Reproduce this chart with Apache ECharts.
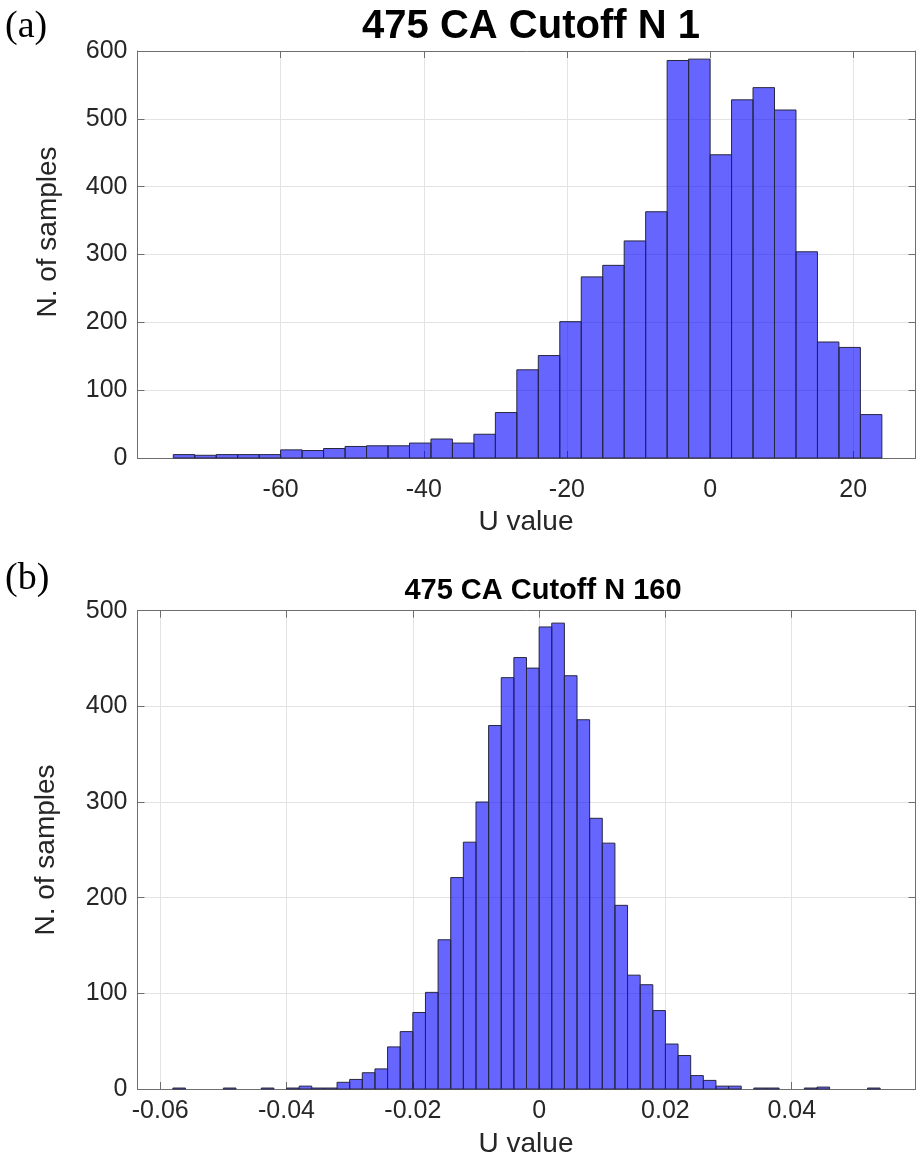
<!DOCTYPE html>
<html>
<head>
<meta charset="utf-8">
<script src="https://cdn.jsdelivr.net/npm/echarts@6/dist/echarts.min.js"></script>
<style>
html,body{margin:0;padding:0;background:#fff;}
#chart{width:917px;height:1170px;}
</style>
</head>
<body>
<div id="chart"></div>
<script>
// ---------- Data ----------
// Panel (a): histogram of U value, bins of width 3 starting at -75
const binStartA = -75;
const binWidthA = 3;
const countsA = [5, 4, 5, 5, 5, 12, 11, 14, 17, 18, 18, 22, 28, 22, 35, 67, 130, 151, 201, 267,
                 284, 320, 363, 586, 588, 447, 528, 546, 513, 304, 171, 163, 64];

// Panel (b): histogram of U value, bins of width 0.002 starting at -0.058
const binStartB = -0.058;
const binWidthB = 0.002;
const countsB = [1, 0, 0, 0, 1, 0, 0, 1, 0, 1, 3, 1, 1, 7, 10, 17, 21, 44, 60, 80,
                 101, 156, 221, 258, 300, 380, 430, 451, 440, 483, 487, 432, 386, 283, 257, 192, 119, 109, 82, 47,
                 35, 14, 9, 3, 3, 0, 1, 1, 0, 0, 1, 2, 0, 0, 0, 1];

const titleA = '475 CA Cutoff N 1';
const titleB = '475 CA Cutoff N 160';
const xName = 'U value';
const yName = 'N. of samples';
const panelA = '(a)';
const panelB = '(b)';

// ---------- Build ----------
function binsToData(start, width, counts) {
  return counts.map(function (c, i) {
    return [+(start + i * width).toFixed(6), +(start + (i + 1) * width).toFixed(6), c];
  });
}

const SANS = "'Liberation Sans', Arial, Helvetica, sans-serif";
const SERIF = "'Liberation Serif', 'Times New Roman', serif";
const TXT = '#262626';
const BOX = '#6e6e6e';
const GRIDC = '#e3e3e3';

function histSeries(idx, data) {
  return {
    type: 'custom',
    xAxisIndex: idx * 2,
    yAxisIndex: idx * 2,
    encode: { x: [0, 1], y: 2 },
    data: data,
    z: 3,
    renderItem: function (params, api) {
      const v = api.value(2);
      if (!v) return null;
      const p0 = api.coord([api.value(0), v]);
      const p1 = api.coord([api.value(1), 0]);
      return {
        type: 'rect',
        shape: { x: p0[0], y: p0[1], width: p1[0] - p0[0], height: p1[1] - p0[1] },
        style: { fill: 'rgba(0,0,255,0.6)', stroke: '#262640', lineWidth: 1 }
      };
    }
  };
}

function mainX(grid, min, max, interval, fmt, margin) {
  const ax = {
    type: 'value', gridIndex: grid, position: 'bottom', min: min, max: max,
    axisLine: { show: true, onZero: false, lineStyle: { color: BOX, width: 1 } },
    axisTick: { show: true, inside: true, length: 7, lineStyle: { color: BOX } },
    axisLabel: { show: true, color: TXT, fontSize: 25, fontFamily: SANS, margin: margin,
                 showMinLabel: false, showMaxLabel: false, formatter: fmt },
    splitLine: { show: true, lineStyle: { color: GRIDC, width: 1 } }
  };
  if (interval != null) ax.interval = interval;
  return ax;
}
function boxX(grid, min, max, interval) {
  const ax = {
    type: 'value', gridIndex: grid, position: 'top', min: min, max: max,
    axisLine: { show: true, onZero: false, lineStyle: { color: BOX, width: 1 } },
    axisTick: { show: true, inside: true, length: 7, lineStyle: { color: BOX } },
    axisLabel: { show: false }, splitLine: { show: false }
  };
  if (interval != null) ax.interval = interval;
  return ax;
}
function mainY(grid, max) {
  return {
    type: 'value', gridIndex: grid, position: 'left', min: 0, max: max, interval: 100,
    axisLine: { show: true, onZero: false, lineStyle: { color: BOX, width: 1 } },
    axisTick: { show: true, inside: true, length: 7, lineStyle: { color: BOX } },
    axisLabel: { show: true, color: TXT, fontSize: 25, fontFamily: SANS, margin: 10 },
    splitLine: { show: true, lineStyle: { color: GRIDC, width: 1 } }
  };
}
function boxY(grid, max) {
  return {
    type: 'value', gridIndex: grid, position: 'right', min: 0, max: max, interval: 100,
    axisLine: { show: true, onZero: false, lineStyle: { color: BOX, width: 1 } },
    axisTick: { show: true, inside: true, length: 7, lineStyle: { color: BOX } },
    axisLabel: { show: false }, splitLine: { show: false }
  };
}

const chart = echarts.init(document.getElementById('chart'), null, { renderer: 'canvas', width: 917, height: 1170 });

const option = {
  backgroundColor: '#ffffff',
  animation: false,
  title: [
    { text: titleA, left: 526, top: 2, textAlign: 'center',
      textStyle: { fontSize: 40, fontWeight: 'bold', color: '#000', fontFamily: SANS } },
    { text: titleB, left: 538, top: 571, textAlign: 'center',
      textStyle: { fontSize: 29, fontWeight: 'bold', color: '#000', fontFamily: SANS } },
    { text: panelA, left: 0, top: 3,
      textStyle: { fontSize: 38, fontWeight: 'normal', color: '#000', fontFamily: SERIF } },
    { text: panelB, left: 0, top: 555,
      textStyle: { fontSize: 38, fontWeight: 'normal', color: '#000', fontFamily: SERIF } }
  ],
  grid: [
    { left: 137.5, top: 51, width: 778, height: 407, containLabel: false },
    { left: 137.5, top: 610.7, width: 778, height: 478.3, containLabel: false }
  ],
  xAxis: [
    mainX(0, -80, 28.7, 20, function (v) { return String(v); }, 20),
    boxX(0, -80, 28.7, 20),
    mainX(1, -0.0636, 0.0596, null, function (v) { return String(+v.toFixed(2)); }, 10),
    boxX(1, -0.0636, 0.0596, null)
  ],
  yAxis: [
    mainY(0, 600), boxY(0, 600),
    mainY(1, 500), boxY(1, 500)
  ],
  graphic: [
    { type: 'text', x: 526, y: 508, style: { text: xName, font: '28px ' + SANS, fill: TXT, textAlign: 'center', textVerticalAlign: 'top' } },
    { type: 'text', x: 526, y: 1130, style: { text: xName, font: '28px ' + SANS, fill: TXT, textAlign: 'center', textVerticalAlign: 'top' } },
    { type: 'text', x: 48, y: 232, rotation: Math.PI / 2, style: { text: yName, font: '28px ' + SANS, fill: TXT, textAlign: 'center', textVerticalAlign: 'middle' } },
    { type: 'text', x: 46, y: 850, rotation: Math.PI / 2, style: { text: yName, font: '28px ' + SANS, fill: TXT, textAlign: 'center', textVerticalAlign: 'middle' } }
  ],
  series: [
    histSeries(0, binsToData(binStartA, binWidthA, countsA)),
    histSeries(1, binsToData(binStartB, binWidthB, countsB))
  ]
};
chart.setOption(option);
</script>
</body>
</html>
